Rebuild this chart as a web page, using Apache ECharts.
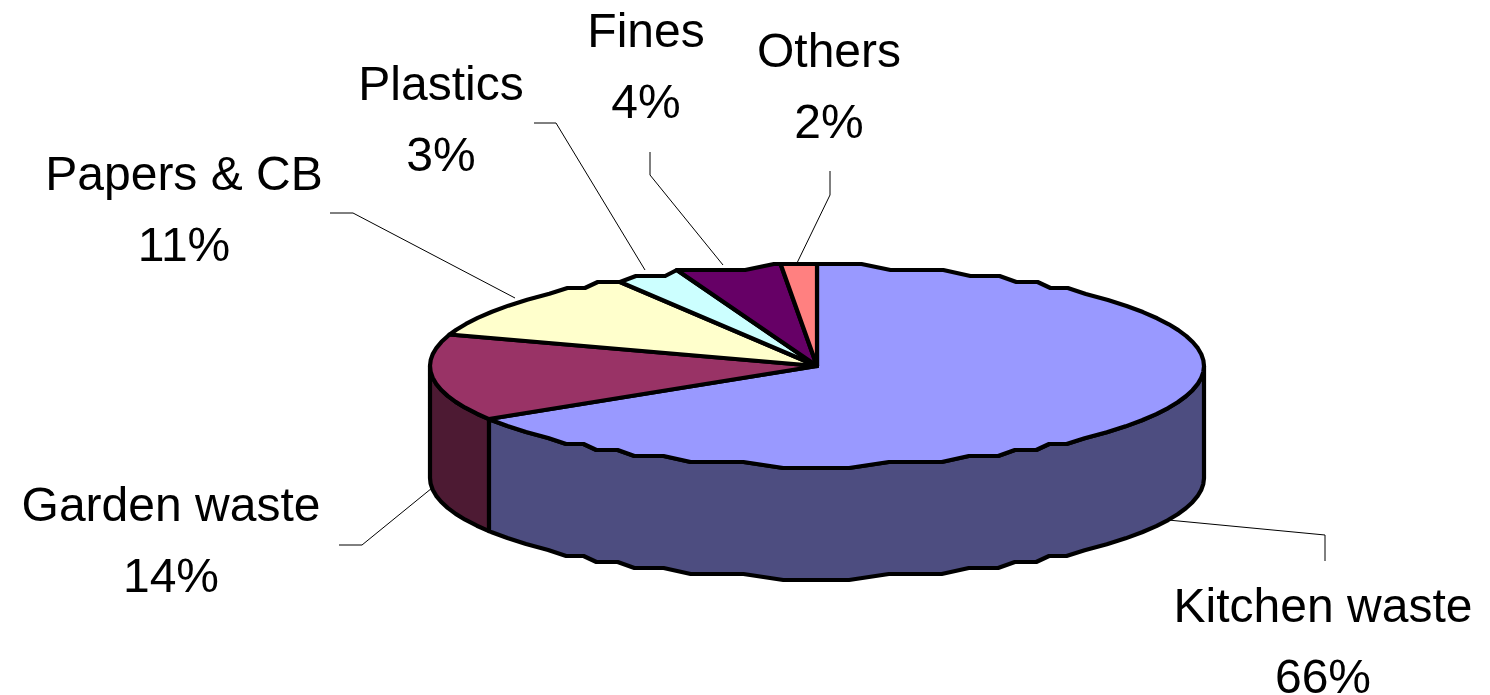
<!DOCTYPE html>
<html>
<head>
<meta charset="utf-8">
<style>html,body{margin:0;padding:0;background:#fff}#c{width:1490px;height:695px}</style>
<script src="https://cdn.jsdelivr.net/npm/echarts@6/dist/echarts.min.js"></script>
</head>
<body>
<div id="c"></div>
<script>
// Data (shares in %, in clockwise order from 12 o'clock)
const categories = ['Kitchen waste', 'Garden waste', 'Papers & CB', 'Plastics', 'Fines', 'Others'];
const shares = [66.1, 14, 11.4, 2.6, 4.4, 1.5];

// Styles
const topColors  = ['#9999FF', '#993366', '#FFFFCC', '#CCFFFF', '#660066', '#FF8080'];
const sideColors = ['#4D4D80', '#4D1A33', '#80805F', '#608080', '#330033', '#804040'];

// Layout of the tilted disc and of the labels
const disc = {cx: 817, cy: 366, rx: 387, ry: 100, depth: 112, step: 6, minRun: 26};
const labelCentres = [[1323, 644], [171, 543], [184, 212], [441, 122], [646, 69], [829, 89]];
const leaders = [
  [[1325, 561], [1325, 535], [1168, 520]],
  [[339, 545], [362, 545], [432, 488]],
  [[330, 213], [353, 213], [515, 298]],
  [[534, 123], [556, 123], [645, 270]],
  [[650, 152], [650, 175], [723, 265]],
  [[830, 171], [830, 195], [797, 263]]
];

const rad = d => d * Math.PI / 180;
const ex = a => disc.cx + disc.rx * Math.sin(rad(a));
const ey = a => disc.cy - disc.ry * Math.cos(rad(a));
const level = y => disc.cy + Math.round((y - disc.cy) / disc.step) * disc.step;

// The reference's rim is a coarse flat/slant outline: build it once, by angle.
// Long flat runs keep their flat stretch, short ones near the sides just follow the curve.
const rim = [];
(function () {
  let start = 0, cur = level(ey(0));
  const flush = (a, b, lv) => {
    if (Math.abs(ex(b) - ex(a)) < disc.minRun) {
      const m = (a + b) / 2;
      rim.push({a: m, x: ex(m), y: ey(m)});
    } else {
      const p = a + (b - a) * 0.2, q = a + (b - a) * 0.8;
      rim.push({a: p, x: ex(p), y: lv});
      rim.push({a: q, x: ex(q), y: lv});
    }
  };
  for (let a = 0.25; a <= 360; a += 0.25) {
    const lv = level(ey(a));
    if (lv !== cur) { flush(start, a, cur); start = a; cur = lv; }
  }
  flush(start, 360, cur);
})();

function rimPoint(a) {
  const dy = Math.abs(Math.cos(rad(a)));
  return [ex(a), dy > 0.75 ? level(ey(a)) : ey(a)];
}

function rimBetween(a0, a1) {
  const pts = [rimPoint(a0)];
  rim.forEach(p => { if (p.a > a0 && p.a < a1) pts.push([p.x, p.y]); });
  pts.push(rimPoint(a1));
  return pts;
}

const total = shares.reduce((s, v) => s + v, 0);
const cumulative = [];
shares.reduce((s, v) => { cumulative.push(s); return s + v; }, 0);
const toAngle = v => v / total * 360;

const outline = {stroke: '#000', lineWidth: 4.2, lineJoin: 'round'};

function renderItem(params, api) {
  const i = params.dataIndex;
  const a0 = toAngle(cumulative[i]);
  const a1 = a0 + toAngle(api.value(0));
  const children = [];

  // Front wall: only the part of the slice facing the viewer (90 to 270 degrees)
  const w0 = Math.max(a0, 90), w1 = Math.min(a1, 270);
  if (w1 > w0) {
    const upper = rimBetween(w0, w1);
    const lower = upper.map(p => [p[0], p[1] + disc.depth]).reverse();
    children.push({
      type: 'polygon',
      shape: {points: upper.concat(lower)},
      style: Object.assign({fill: sideColors[i]}, outline)
    });
  }

  // Top face
  children.push({
    type: 'polygon',
    shape: {points: [[disc.cx, disc.cy]].concat(rimBetween(a0, a1))},
    style: Object.assign({fill: topColors[i]}, outline)
  });

  // Leader line
  children.push({
    type: 'polyline',
    shape: {points: leaders[i]},
    style: {stroke: '#000', lineWidth: 1, fill: null}
  });

  // Label
  children.push({
    type: 'text',
    style: {
      text: categories[i] + '\n' + Math.round(api.value(0)) + '%',
      x: labelCentres[i][0],
      y: labelCentres[i][1],
      align: 'center',
      verticalAlign: 'middle',
      fill: '#000',
      font: '48px "Liberation Sans", Arial, sans-serif',
      lineHeight: 71
    }
  });

  return {type: 'group', children: children};
}

const chart = echarts.init(document.getElementById('c'), null, {renderer: 'canvas', width: 1490, height: 695});
chart.setOption({
  animation: false,
  backgroundColor: '#fff',
  series: [{
    type: 'custom',
    coordinateSystem: 'none',
    silent: true,
    renderItem: renderItem,
    data: shares.map((v, i) => ({name: categories[i], value: [v]}))
  }]
});
</script>
</body>
</html>
